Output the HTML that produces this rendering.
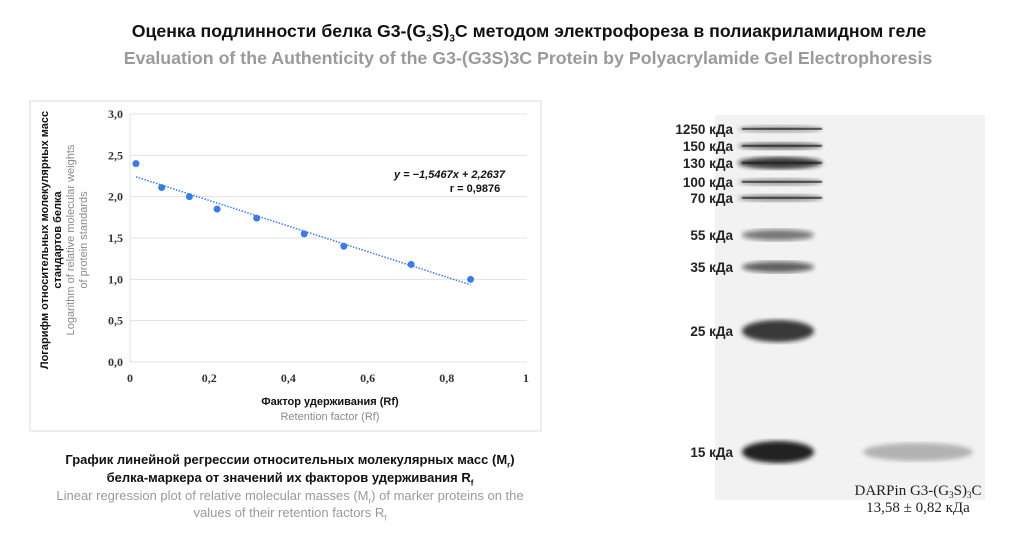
<!DOCTYPE html>
<html><head><meta charset="utf-8"><style>
body{margin:0;width:1028px;height:552px;background:#fff;font-family:"Liberation Sans",sans-serif;position:relative;overflow:hidden}
.t{position:absolute;white-space:nowrap}
</style></head><body>
<div class="t" style="left:0;width:1058px;text-align:center;top:21px;font-size:17.7px;font-weight:bold;color:#111">Оценка подлинности белка G3-(G<sub style="font-size:10px">3</sub>S)<sub style="font-size:10px">3</sub>C методом электрофореза в полиакриламидном геле</div>
<div class="t" style="left:0;width:1056px;text-align:center;top:48px;font-size:17.8px;font-weight:bold;color:#9a9a9a">Evaluation of the Authenticity of the G3-(G3S)3C Protein by Polyacrylamide Gel Electrophoresis</div>

<svg width="1028" height="552" style="position:absolute;left:0;top:0">
<rect x="30" y="101" width="511" height="330" fill="none" stroke="#e3e8e8" stroke-width="1.5"/>
<g id="grid"></g><g id="trend"></g><g id="pts"></g>
<text x="505" y="178" font-size="11" font-weight="bold" text-anchor="end" font-style="italic" fill="#111">y = −1,5467x + 2,2637</text>
<text x="475" y="192" font-size="11" font-weight="bold" text-anchor="middle" fill="#111">r = 0,9876</text>
<text x="330" y="405" font-size="11" font-weight="bold" text-anchor="middle" fill="#111">Фактор удерживания (Rf)</text>
<text x="330" y="420" font-size="11" text-anchor="middle" fill="#8a8a8a">Retention factor (Rf)</text>
<g transform="translate(48,240) rotate(-90)">
<text x="0" y="0" font-size="11" font-weight="bold" text-anchor="middle" fill="#111">Логарифм относительных молекулярных масс</text>
<text x="0" y="13" font-size="11" font-weight="bold" text-anchor="middle" fill="#111">стандартов белка</text>
<text x="0" y="26" font-size="11" text-anchor="middle" fill="#8a8a8a">Logarithm of relative molecular weights</text>
<text x="0" y="39" font-size="11" text-anchor="middle" fill="#8a8a8a">of protein standards</text>
</g>
<defs><filter id="bl"><feGaussianBlur stdDeviation="2.5"/></filter><filter id="bl2"><feGaussianBlur stdDeviation="0.8"/></filter></defs>
<rect x="715" y="115" width="270" height="385" fill="#f2f2f2"/>
<g id="bands"></g>
<text x="918" y="495" font-family="Liberation Serif" font-size="15" text-anchor="middle" fill="#222">DARPin G3-(G<tspan font-size="9" dy="3">3</tspan><tspan dy="-3">S)</tspan><tspan font-size="9" dy="3">3</tspan><tspan dy="-3">C</tspan></text>
<text x="918" y="512" font-family="Liberation Serif" font-size="15" text-anchor="middle" fill="#222">13,58 ± 0,82 кДа</text>
</svg>

<div class="t" style="left:0;width:580px;text-align:center;top:452px;font-size:13px;font-weight:bold;color:#111">График линейной регрессии относительных молекулярных масс (M<sub style="font-size:8px">r</sub>)</div>
<div class="t" style="left:0;width:580px;text-align:center;top:470px;font-size:13px;font-weight:bold;color:#111">белка-маркера от значений их факторов удерживания R<sub style="font-size:8px">f</sub></div>
<div class="t" style="left:0;width:580px;text-align:center;top:488px;font-size:13px;color:#9a9a9a">Linear regression plot of relative molecular masses (M<sub style="font-size:8px">r</sub>) of marker proteins on the</div>
<div class="t" style="left:0;width:580px;text-align:center;top:505px;font-size:13px;color:#9a9a9a">values of their retention factors R<sub style="font-size:8px">f</sub></div>

<script>
const xTicks=[0,0.2,0.4,0.6,0.8,1];
const xTickLabels=["0","0,2","0,4","0,6","0,8","1"];
const yTicks=[0,0.5,1,1.5,2,2.5,3];
const yTickLabels=["0,0","0,5","1,0","1,5","2,0","2,5","3,0"];
const rfValues=[0.015,0.08,0.15,0.22,0.32,0.44,0.54,0.71,0.86];
const logMw=[2.40,2.11,2.00,1.85,1.74,1.55,1.40,1.18,1.00];
const slope=-1.5467, intercept=2.2637;
const markerLabels=["1250 кДа","150 кДа","130 кДа","100 кДа","70 кДа","55 кДа","35 кДа","25 кДа","15 кДа"];
const markerPos=[129,146,163,182,198,235,267,331,452];
const bandIntensity=[0.35,0.6,0.85,0.4,0.45,0.55,0.65,0.85,0.95];
const sampleIntensity=[0.35];

const NS="http://www.w3.org/2000/svg";
const X=v=>130+v*396, Y=v=>362-v*248/3;
function mk(t,a,p){const e=document.createElementNS(NS,t);for(const k in a)e.setAttribute(k,a[k]);p.appendChild(e);return e;}
const g=document.getElementById('grid');
yTicks.forEach((v,i)=>{
 const l=mk('line',{x1:130,x2:527,y1:Y(v),y2:Y(v),stroke:'#dde3e3','stroke-width':1},g);
 
 
 const t=mk('text',{x:123,y:Y(v)+4,'font-size':12,'font-family':'Liberation Serif','font-weight':'bold','text-anchor':'end',fill:'#333'},g);
 t.textContent=yTickLabels[i];
 
 
});
mk('line',{x1:130,x2:130,y1:Y(3),y2:Y(0),stroke:'#dde3e3'},g);
xTicks.forEach((v,i)=>{
 const t=mk('text',{x:X(v),y:382,'font-size':12,'font-family':'Liberation Serif','font-weight':'bold','text-anchor':'middle',fill:'#333'},g);
 t.textContent=xTickLabels[i];
 
 
});
const x0=rfValues[0],x1=rfValues[rfValues.length-1];
const tl=mk('line',{x1:X(x0),y1:Y(slope*x0+intercept),x2:X(x1),y2:Y(slope*x1+intercept),stroke:'#3b7be8','stroke-width':1.5,'stroke-dasharray':'1.5 1.5'},document.getElementById('trend'));


const pg=document.getElementById('pts');
rfValues.forEach((v,i)=>{
 const c=mk('circle',{cx:X(v),cy:Y(logMw[i]),r:3.5,fill:'#3b7be8'},pg);
 
 
});
const bg=document.getElementById('bands');
markerPos.forEach((y,i)=>{
 const thick=i>=7?22:(i==5||i==6?11:(i==2?12:7));
 const rx=i>=5?36:42;
 const a=bandIntensity[i];
 const b=mk('ellipse',{cx:i>=5?778:780,cy:y,rx:rx,ry:thick/2,fill:'rgba(20,20,20,'+a+')',filter:'url(#bl)'},bg);
 
 
 if(i<=4){const ln=mk('rect',{x:742,y:y-1,width:80,height:1.8,fill:'#222',filter:'url(#bl2)'},bg);
  
  }
 const t=mk('text',{x:733,y:y+5,'font-size':13.5,'font-weight':'bold','text-anchor':'end',fill:'#222'},bg);
 t.textContent=markerLabels[i];
 
 
});
const sb=mk('ellipse',{cx:918,cy:452,rx:55,ry:9,fill:'rgba(60,60,60,'+sampleIntensity[0]+')',filter:'url(#bl)'},bg);


</script>
</body></html>
